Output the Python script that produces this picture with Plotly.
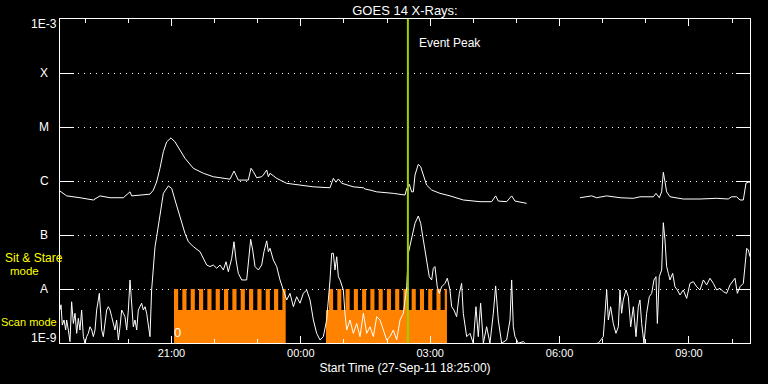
import math
import pandas as pd
import plotly.graph_objects as go

# ---------------- data ----------------
start_time = "2011-09-27 18:25:00"
end_time = "2011-09-28 10:25:00"
event_peak = "2011-09-28 02:29:00"

# long channel (1-8 A), minutes after start, flux W/m^2
long_min = [0, 9.3, 27.8, 46.4, 55.7, 69.6, 88.1, 97.4, 99.7, 125.2, 129.9, 134.5, 139.1, 143.8,
            148.4, 154.4, 160.0, 167.0, 173.9, 185.5, 199.4, 213.3, 231.9, 236.5, 242.1, 248.1,
            262.0, 265.8, 269.0, 273.6, 280.6, 282.9, 287.6, 289.9, 292.2, 296.8, 301.5, 315.4,
            333.9, 352.5, 375.7, 380.3, 384.0, 387.3, 391.9, 408.1, 422.1, 424.4, 431.3, 440.6,
            463.8, 480.0, 482.4, 483.2, 486.0, 489.2, 491.6, 493.9, 498.5, 501.8, 505.5, 510.1,
            517.1, 528.7, 542.6, 561.1, 584.3, 600.5, 606.1, 609.8, 621.4, 628.4, 633.0, 640.0,
            649.2, 690.0, 723.5, 739.7, 746.6, 760.6, 779.1, 797.7, 806.9, 825.5, 829.2, 833.8,
            837.1, 839.4, 841.7, 844.0, 848.7, 867.2, 890.4, 913.6, 929.8, 934.5, 941.4, 946.1,
            950.7, 954.4, 957.7, 960.0]
long_flux = [6.5e-7, 5.3e-7, 4.9e-7, 4.45e-7, 5.3e-7, 4.9e-7, 4.9e-7, 6.3e-7, 5.3e-7, 5.7e-7,
             6.8e-7, 9.7e-7, 1.72e-6, 3.49e-6, 5.3e-6, 6.3e-6, 5.3e-6, 3.75e-6, 2.63e-6, 1.72e-6,
             1.39e-6, 1.2e-6, 1.12e-6, 1.08e-6, 1.53e-6, 1.04e-6, 1.04e-6, 1.72e-6, 1.49e-6,
             1.15e-6, 1.2e-6, 1.29e-6, 1.6e-6, 1.2e-6, 1.39e-6, 1.25e-6, 1.12e-6, 9.06e-7, 8.4e-7,
             7.8e-7, 7.5e-7, 1.12e-6, 9.5e-7, 1.09e-6, 9.1e-7, 7.8e-7, 7.5e-7, 7.1e-7, 6.8e-7,
             6.3e-7, 5.9e-7, 5.5e-7, 7.3e-7, 7.5e-7, 8.7e-7, 6.3e-7, 6.3e-7, 1.29e-6, 2.04e-6,
             1.84e-6, 1.29e-6, 8.4e-7, 6.8e-7, 5.9e-7, 5.3e-7, 4.45e-7, 4.14e-7, 4.14e-7, 5.3e-7,
             4.25e-7, 4.14e-7, 5.3e-7, 4.25e-7, 4.03e-7, 3.86e-7, None, 4.9e-7, 5.3e-7, 4.9e-7,
             5.3e-7, 4.9e-7, 4.78e-7, 5.1e-7, 5.1e-7, 5.9e-7, 4.9e-7, 6.3e-7, 1.45e-6, 9.7e-7,
             6.3e-7, 5.1e-7, 4.64e-7, 4.64e-7, 4.78e-7, 4.64e-7, 5.1e-7, 5.1e-7, 4.45e-7, 4.45e-7,
             9.1e-7, 9.5e-7, 9.5e-7]

# short channel (0.5-4 A)
short_min = [0, 1.4, 3.2, 5.6, 7.9, 9.3, 11.6, 13.9, 16.2, 18.6, 20.9, 23.2, 25.5, 27.8, 30.1,
             32.5, 34.8, 37.1, 39.4, 41.7, 44.1, 46.4, 48.7, 51.0, 53.3, 54.7, 56.6, 58.0, 60.3,
             62.6, 64.9, 67.2, 69.6, 71.9, 74.2, 76.5, 78.8, 81.2, 83.5, 85.8, 88.1, 90.4, 92.8,
             95.1, 97.4, 99.7, 102.0, 104.3, 106.7, 109.0, 111.3, 113.6, 115.9, 118.3, 120.6,
             122.9, 125.2, 127.5, 129.9, 132.2, 134.5,
             139.1, 143.8, 150.7, 155.4, 160.0, 167.0, 173.9, 178.6, 185.5, 194.8, 204.1, 208.7,
             213.3, 218.0, 222.6, 227.3, 231.0, 234.2, 238.9, 242.1, 244.9, 248.1, 252.8, 259.7,
             262.0, 265.3, 268.1, 271.3, 276.0, 280.6, 283.8, 287.6, 289.9, 292.2, 296.8, 301.5,
             306.1, 310.7, 315.4, 320.0, 324.7, 329.3, 333.9, 338.6, 343.2, 347.9, 352.5, 357.1,
             361.8, 366.4, 371.0, 375.7, 378.0, 380.3, 382.6, 385.0, 387.3, 389.6, 394.2, 396.5,
             398.9, 403.5, 408.1, 412.8, 417.4, 422.1, 426.7, 431.3, 436.0, 440.6, 445.2, 449.9,
             454.5, 459.2, 463.8, 468.4, 473.1, 477.7, 482.4,
             484.6, 489.2, 493.9, 498.5, 501.8, 505.5, 510.1, 513.8, 517.1, 519.4, 521.7, 524.9,
             527.7, 531.0, 535.6, 538.9, 542.6, 544.9, 548.1, 551.8, 555.6, 558.8, 561.1, 563.4,
             565.8, 570.4, 575.0, 578.7, 582.0, 585.2, 589.0, 593.6, 598.2, 602.9, 606.1, 609.8,
             614.5, 621.4, 626.1, 628.4, 630.7, 633.0, 637.6, 644.6, 646.9, 700.0, 746.6, 749.0,
             755.9, 760.6, 762.9, 766.1, 769.8, 773.5, 776.8, 779.1, 781.4, 783.7, 787.5, 790.7,
             794.0, 797.7, 801.4, 804.6, 806.9, 809.3, 812.5, 816.2, 819.9, 823.2, 826.4, 829.2,
             831.1, 833.8, 837.1, 839.4, 841.7, 844.0, 846.4, 848.7, 852.4, 855.6, 858.9, 862.6,
             867.2, 871.9, 876.5, 881.1, 885.8, 890.4, 895.1, 899.7, 904.3, 909.0, 913.6, 918.2,
             922.9, 927.5, 932.2, 936.8, 939.1, 942.4, 946.1, 950.7, 953.0, 955.4, 957.7, 960.0]
short_flux = [4.1e-9, 5.1e-9, 2.15e-9, 2.67e-9, 1.74e-9, 2.67e-9, 1.74e-9, 1.06e-9, 5.8e-9, 2.3e-9,
              3.55e-9, 1.51e-9, 2.87e-9, 1.74e-9, 4.08e-9, 1.31e-9, 9.8e-10, 1.31e-9, 1.51e-9,
              2.0e-9, 1.74e-9, 1.31e-9, 1.74e-9, 4.08e-9, 6.26e-9, 8.3e-9, 3.55e-9, 1.74e-9,
              1.31e-9, 2.3e-9, 4.08e-9, 4.7e-9, 4.08e-9, 3.07e-9, 2.3e-9, 1.74e-9, 2.67e-9,
              1.14e-9, 2.0e-9, 4.08e-9, 3.55e-9, 3.07e-9, 1.74e-9, 4.08e-9, 1.47e-8, 5.45e-9,
              2.0e-9, 2.67e-9, 1.74e-9, 4.08e-9, 4.7e-9, 5.45e-9, 4.08e-9, 4.7e-9, 3.55e-9,
              2.0e-9, 1.31e-9, 9.6e-9, 2.99e-8, 6.07e-8, 9.3e-8,
              2.52e-7, 5.9e-7, 8.1e-7, 7.3e-7, 4.45e-7, 2.18e-7, 1.07e-7, 7.5e-8, 6.1e-8, 4.9e-8,
              2.78e-8, 2.6e-8, 2.78e-8, 2.42e-8, 2.78e-8, 2.25e-8, 3.2e-8, 2.09e-8, 3.7e-8,
              7.5e-8, 3.45e-8, 1.95e-8, 1.47e-8, 1.47e-8, 3.45e-8, 8.3e-8, 5.27e-8, 2.6e-8,
              2.25e-8, 2.78e-8, 4.9e-8, 7.8e-8, 4.9e-8, 5.67e-8, 3.45e-8, 2.6e-8, 1.47e-8, 9.6e-9,
              6.26e-9, 8.3e-9, 4.7e-9, 7.2e-9, 5.45e-9, 8.3e-9, 9.6e-9, 6.26e-9, 2.67e-9, 1.51e-9,
              1.14e-9, 1.31e-9, 2.67e-9, 1.47e-8, 4.58e-8, 4.58e-8, 2.25e-8, 3.96e-8, 1.69e-8,
              1.47e-8, 9.6e-9, 3.55e-9, 1.74e-9, 2.67e-9, 1.51e-9, 2.3e-9, 1.31e-9, 3.55e-9,
              1.51e-9, 2.0e-9, 1.31e-9, 3.07e-9, 2.67e-9, 1.74e-9, 1.14e-9, 1.31e-9, 1.74e-9,
              1.14e-9, 2.67e-9, 3.55e-9, 1.1e-8,
              4.58e-8, 8.1e-8, 1.65e-7, 2.25e-7, 1.65e-7, 8.1e-8, 3.45e-8, 1.69e-8, 1.47e-8,
              2.42e-8, 2.6e-8, 1.1e-8, 8.3e-9, 1.1e-8, 1.27e-8, 1.58e-8, 9.6e-9, 4.7e-9, 4.08e-9,
              3.07e-9, 8.3e-9, 1.27e-8, 3.55e-9, 2.0e-9, 1.31e-9, 1.51e-9, 9.9e-10, 4.7e-9,
              1.31e-9, 5.45e-9, 9.9e-10, 2.0e-9, 9.9e-10, 3.55e-9, 1.14e-8, 2.67e-9, 9.9e-10,
              1.14e-9, 2.67e-9, 1.47e-8, 2.0e-9, 1.31e-9, 9.9e-10, 1.06e-9, 9.9e-10, None,
              9.9e-10, 9.9e-10, 1.31e-9, 9.6e-9, 2.67e-9, 4.7e-9, 2.3e-9, 1.51e-9, 2.0e-9, 9.6e-9,
              3.55e-9, 6.26e-9, 9.6e-9, 7.2e-9, 2.0e-9, 4.7e-9, 1.31e-9, 4.7e-9, 6.26e-9, 2.3e-9,
              9.9e-10, 3.55e-9, 7.2e-9, 8.3e-9, 1.47e-8, 1.69e-8, 2.3e-9, 1.69e-8, 2.25e-8,
              1.69e-7, 8.1e-8, 2.6e-8, 1.95e-8, 1.47e-8, 1.95e-8, 1.1e-8, 9.6e-9, 7.75e-9, 9.6e-9,
              6.7e-9, 1.27e-8, 1.37e-8, 1.1e-8, 9.6e-9, 1.47e-8, 1.19e-8, 1.58e-8, 1.27e-8,
              9.6e-9, 1.03e-8, 8.9e-9, 8.3e-9, 1.19e-8, 1.47e-8, 1.58e-8, 8.3e-9, 1.1e-8, 1.27e-8,
              2.6e-8, 5.67e-8, 5.27e-8, 3.96e-8]

# instrument mode: change times (minutes after start) and level after the change (None = off)
mode_t = [158.6, 164.4, 170.2, 176.0, 181.8, 187.6, 193.4, 199.2, 205.0, 210.8, 216.6, 222.4,
          228.2, 234.0, 239.8, 245.6, 251.4, 257.2, 263.0, 268.8, 274.6, 280.4, 286.2, 292.0,
          297.8, 303.6, 309.4, 314.0,
          370.0, 374.3, 380.0, 385.8, 391.5, 397.3, 403.0, 408.8, 414.5, 420.3, 426.0, 431.8,
          437.5, 443.3, 449.0, 454.8, 460.5, 466.3, 472.0, 477.8, 483.5, 489.3, 495.0, 500.8,
          506.5, 512.3, 518.0, 523.8, 529.5, 535.3, 538.4]
mode_v = [1e-8, 4.1e-9, 1e-8, 4.1e-9, 1e-8, 4.1e-9, 1e-8, 4.1e-9, 1e-8, 4.1e-9, 1e-8, 4.1e-9,
          1e-8, 4.1e-9, 1e-8, 4.1e-9, 1e-8, 4.1e-9, 1e-8, 4.1e-9, 1e-8, 4.1e-9, 1e-8, 4.1e-9,
          1e-8, 4.1e-9, 1e-8, None,
          4.1e-9, 1e-8, 4.1e-9, 1e-8, 4.1e-9, 1e-8, 4.1e-9, 1e-8, 4.1e-9, 1e-8, 4.1e-9, 1e-8,
          4.1e-9, 1e-8, 4.1e-9, 1e-8, 4.1e-9, 1e-8, 4.1e-9, 1e-8, 4.1e-9, 1e-8, 4.1e-9, 1e-8,
          4.1e-9, 1e-8, 4.1e-9, 1e-8, 4.1e-9, 1e-8, None]

class_vals = [1e-9, 1e-8, 1e-7, 1e-6, 1e-5, 1e-4, 1e-3]
class_text = ["1E-9", "A", "B", "C", "M", "X", "1E-3"]

# ---------------- build ----------------
t0 = pd.Timestamp(start_time)


def to_time(mins):
    return [t0 + pd.Timedelta(minutes=m) for m in mins]


y_lo, y_hi = math.log10(class_vals[0]), math.log10(class_vals[-1])
base = class_vals[0]

WHITE = "#ffffff"
ORANGE = "#ff8200"
GREEN = "#a0d000"
YELLOW = "#ffff00"
FONT = "Liberation Sans"

fig = go.Figure()

# orange mode blocks
region_x, region_y = None, None
for i, (t, v) in enumerate(zip(mode_t, mode_v)):
    if v is None:
        continue
    t_next = mode_t[i + 1]
    if i == 0 or mode_v[i - 1] is None:
        region_x, region_y = [t], [base]
    region_x += [t, t_next]
    region_y += [v, v]
    if mode_v[i + 1] is None:
        region_x.append(t_next)
        region_y.append(base)
        fig.add_trace(go.Scatter(x=to_time(region_x), y=region_y, mode="lines",
                                 line=dict(width=0, color=ORANGE), fill="toself",
                                 fillcolor=ORANGE, hoverinfo="skip", showlegend=False))

fig.add_trace(go.Scatter(x=to_time(long_min), y=long_flux, mode="lines",
                         line=dict(color=WHITE, width=1), connectgaps=False,
                         showlegend=False, name="1-8 A"))
fig.add_trace(go.Scatter(x=to_time(short_min), y=short_flux, mode="lines",
                         line=dict(color=WHITE, width=1), connectgaps=False,
                         showlegend=False, name="0.5-4 A"))

# event peak line
fig.add_shape(type="line", xref="x", yref="paper", x0=event_peak, x1=event_peak, y0=0, y1=1,
              line=dict(color=GREEN, width=2), layer="above")
fig.add_annotation(x=event_peak, xref="x", y=0.926, yref="paper", text="Event Peak",
                   showarrow=False, xanchor="left", yanchor="middle", xshift=9,
                   font=dict(family=FONT, size=12, color=WHITE))

# y class labels
for v, txt in zip(class_vals, class_text):
    lv = math.log10(v)
    anchor, shift = "middle", 0
    if lv == y_lo:
        anchor, shift = "bottom", -4
    elif lv == y_hi:
        anchor, shift = "top", 4
    fig.add_annotation(x=-0.0228, xref="paper", y=lv, yref="y", text=txt, showarrow=False,
                       xanchor="center", yanchor=anchor, yshift=shift,
                       font=dict(family=FONT, size=12, color=WHITE))

# mode labels
fig.add_annotation(x=-0.0377, xref="paper", y=0.262, yref="paper", text="Sit & Stare",
                   showarrow=False, xanchor="center", yanchor="middle",
                   font=dict(family=FONT, size=12, color=YELLOW))
fig.add_annotation(x=-0.0517, xref="paper", y=0.222, yref="paper", text="mode",
                   showarrow=False, xanchor="center", yanchor="middle",
                   font=dict(family=FONT, size=11.5, color=YELLOW))
fig.add_annotation(x=-0.0445, xref="paper", y=0.066, yref="paper", text="Scan mode",
                   showarrow=False, xanchor="center", yanchor="middle",
                   font=dict(family=FONT, size=11, color=YELLOW))
fig.add_annotation(x=0.171, xref="paper", y=0.031, yref="paper", text="0",
                   showarrow=False, xanchor="center", yanchor="middle",
                   font=dict(family=FONT, size=13, color=WHITE))

fig.update_layout(
    width=768, height=384,
    margin=dict(l=60, r=18, t=19, b=41, autoexpand=False),
    paper_bgcolor="black", plot_bgcolor="black",
    title=dict(text="GOES 14 X-Rays:", x=0.5, xref="paper", y=1 - 10 / 384, yref="container",
               xanchor="center", yanchor="middle",
               font=dict(family=FONT, size=13, color=WHITE)),
    showlegend=False,
    xaxis=dict(type="date", range=[start_time, end_time],
               tick0="2011-09-27 21:00:00", dtick=3 * 3600000, tickformat="%H:%M",
               ticks="inside", ticklen=7, tickwidth=1, tickcolor=WHITE,
               showline=True, linecolor=WHITE, linewidth=1, mirror="allticks",
               showgrid=False, zeroline=False, automargin=False,
               tickfont=dict(family=FONT, size=11, color=WHITE),
               minor=dict(dtick=3600000, tick0="2011-09-27 19:00:00", ticks="inside",
                          ticklen=4, tickcolor=WHITE, tickwidth=1, showgrid=False),
               title=dict(text="Start Time (27-Sep-11 18:25:00)", standoff=5,
                          font=dict(family=FONT, size=12, color=WHITE))),
    yaxis=dict(type="log", range=[y_lo, y_hi], tickvals=class_vals, showticklabels=False,
               ticks="inside", ticklen=14, tickwidth=1, tickcolor=WHITE,
               showline=True, linecolor=WHITE, linewidth=1, mirror="allticks",
               showgrid=True, gridcolor=WHITE, gridwidth=1, griddash="1px,5px",
               zeroline=False, automargin=False),
)

fig.write_html("out.html", config={"displayModeBar": False},
               post_script="document.body.style.margin='0';"
               "document.body.style.padding='0';")
